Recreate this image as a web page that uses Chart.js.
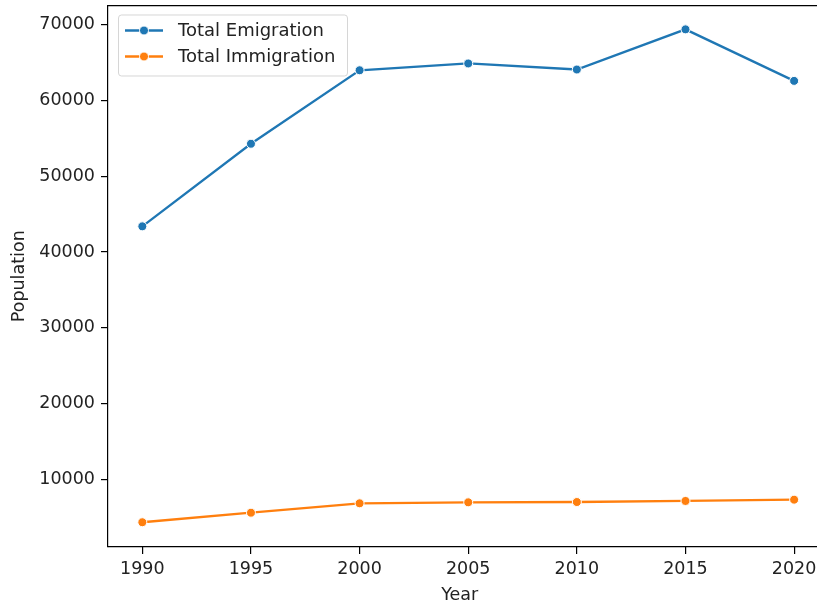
<!DOCTYPE html>
<html>
<head>
<meta charset="utf-8">
<script src="https://cdn.jsdelivr.net/npm/chart.js@4/dist/chart.umd.min.js"></script>
<style>
  html, body { margin: 0; padding: 0; background: #fff; }
  #wrap { width: 817px; height: 607px; }
</style>
</head>
<body>
<div id="wrap"><canvas id="c" width="817" height="607"></canvas></div>
<script>
// Migration totals by year
const years = [1990, 1995, 2000, 2005, 2010, 2015, 2020];
const emigration = [43400, 54300, 64000, 64900, 64100, 69400, 62600];
const immigration = [4340, 5600, 6840, 6970, 7010, 7150, 7320];
const yTickValues = [10000, 20000, 30000, 40000, 50000, 60000, 70000];
const xTickValues = [1990, 1995, 2000, 2005, 2010, 2015, 2020];
const seriesNames = ['Total Emigration', 'Total Immigration'];
const seriesColors = ['#1f77b4', '#ff7f0e'];

const FONT = 'DejaVu Sans';
const FS = 17.5;
const SPINE = 1.2;

// same pixel snapping Chart.js uses for its own axis borders
const snap = (p, w) => Math.round(p - w / 2) + w / 2;

// Top and bottom spines run to the canvas edge; inset legend in the upper left
const framePlugin = {
  id: 'frame',
  afterDatasetsDraw(chart) {
    const { ctx, chartArea: a } = chart;
    ctx.save();
    ctx.strokeStyle = '#000';
    ctx.lineWidth = SPINE;
    ctx.lineCap = 'butt';
    ctx.beginPath();
    ctx.moveTo(a.left, snap(a.top, SPINE));
    ctx.lineTo(chart.width, snap(a.top, SPINE));
    ctx.moveTo(a.left, snap(a.bottom, SPINE));
    ctx.lineTo(chart.width, snap(a.bottom, SPINE));
    ctx.stroke();

    // legend box
    const bx = a.left + 10, by = a.top + 9, bw = 229, bh = 61;
    ctx.fillStyle = 'rgba(255,255,255,0.8)';
    ctx.strokeStyle = 'rgba(204,204,204,0.8)';
    ctx.lineWidth = 1;
    ctx.beginPath();
    ctx.roundRect(bx + 0.5, by + 0.5, bw, bh, 3);
    ctx.fill();
    ctx.stroke();

    ctx.font = '18px "' + FONT + '"';
    ctx.textBaseline = 'middle';
    seriesNames.forEach((name, i) => {
      const cy = by + 16 + i * 26;
      ctx.strokeStyle = seriesColors[i];
      ctx.lineWidth = 2.3;
      ctx.beginPath();
      ctx.moveTo(bx + 7, cy);
      ctx.lineTo(bx + 45, cy);
      ctx.stroke();
      ctx.beginPath();
      ctx.arc(bx + 26, cy, 4.5, 0, Math.PI * 2);
      ctx.fillStyle = seriesColors[i];
      ctx.fill();
      ctx.strokeStyle = '#fff';
      ctx.lineWidth = 1;
      ctx.stroke();
      ctx.fillStyle = '#222';
      ctx.fillText(name, bx + 60, cy + 1);
    });
    ctx.restore();
  }
};

function lineDataset(name, values, color) {
  return {
    label: name,
    data: years.map((y, i) => ({ x: y, y: values[i] })),
    borderColor: color,
    backgroundColor: color,
    pointBackgroundColor: color,
    pointBorderColor: '#fff',
    pointBorderWidth: 1,
    pointRadius: 4.5,
    borderWidth: 2.3,
    tension: 0
  };
}

new Chart(document.getElementById('c'), {
  type: 'line',
  data: {
    datasets: [
      lineDataset(seriesNames[0], emigration, seriesColors[0]),
      lineDataset(seriesNames[1], immigration, seriesColors[1])
    ]
  },
  options: {
    responsive: false,
    animation: false,
    devicePixelRatio: 1,
    clip: false,
    layout: { padding: { left: 0, top: 5, right: 0, bottom: 0 } },
    plugins: {
      legend: { display: false },
      tooltip: { enabled: false }
    },
    scales: {
      x: {
        type: 'linear',
        min: 1988.42,
        max: 2020.80,
        afterBuildTicks(scale) { scale.ticks = xTickValues.map(v => ({ value: v })); },
        afterFit(scale) {
          scale.height = 60;
          scale.paddingLeft = 0; scale.paddingRight = 0;
        },
        grid: { display: true, drawOnChartArea: false, drawTicks: true, tickLength: 7, color: '#000', lineWidth: SPINE },
        border: { display: false },
        ticks: {
          color: '#222',
          font: { family: FONT, size: FS },
          padding: 5,
          maxRotation: 0,
          autoSkip: false,
          callback: v => String(v)
        },
        title: {
          display: true,
          text: 'Year',
          color: '#222',
          font: { family: FONT, size: FS },
          padding: { top: 0, bottom: 1 }
        }
      },
      y: {
        type: 'linear',
        min: 1073,
        max: 72550,
        afterBuildTicks(scale) { scale.ticks = yTickValues.map(v => ({ value: v })); },
        afterFit(scale) {
          scale.width = 108;
          scale.paddingTop = 0; scale.paddingBottom = 0;
        },
        grid: { display: true, drawOnChartArea: false, drawTicks: true, tickLength: 7, color: '#000', lineWidth: SPINE },
        border: { display: true, color: '#000', width: SPINE },
        ticks: {
          color: '#222',
          font: { family: FONT, size: FS },
          padding: 6,
          callback: v => String(v)
        },
        title: {
          display: true,
          text: 'Population',
          color: '#222',
          font: { family: FONT, size: FS },
          padding: { top: 9, bottom: 0 }
        }
      }
    }
  },
  plugins: [framePlugin]
});
</script>
</body>
</html>
